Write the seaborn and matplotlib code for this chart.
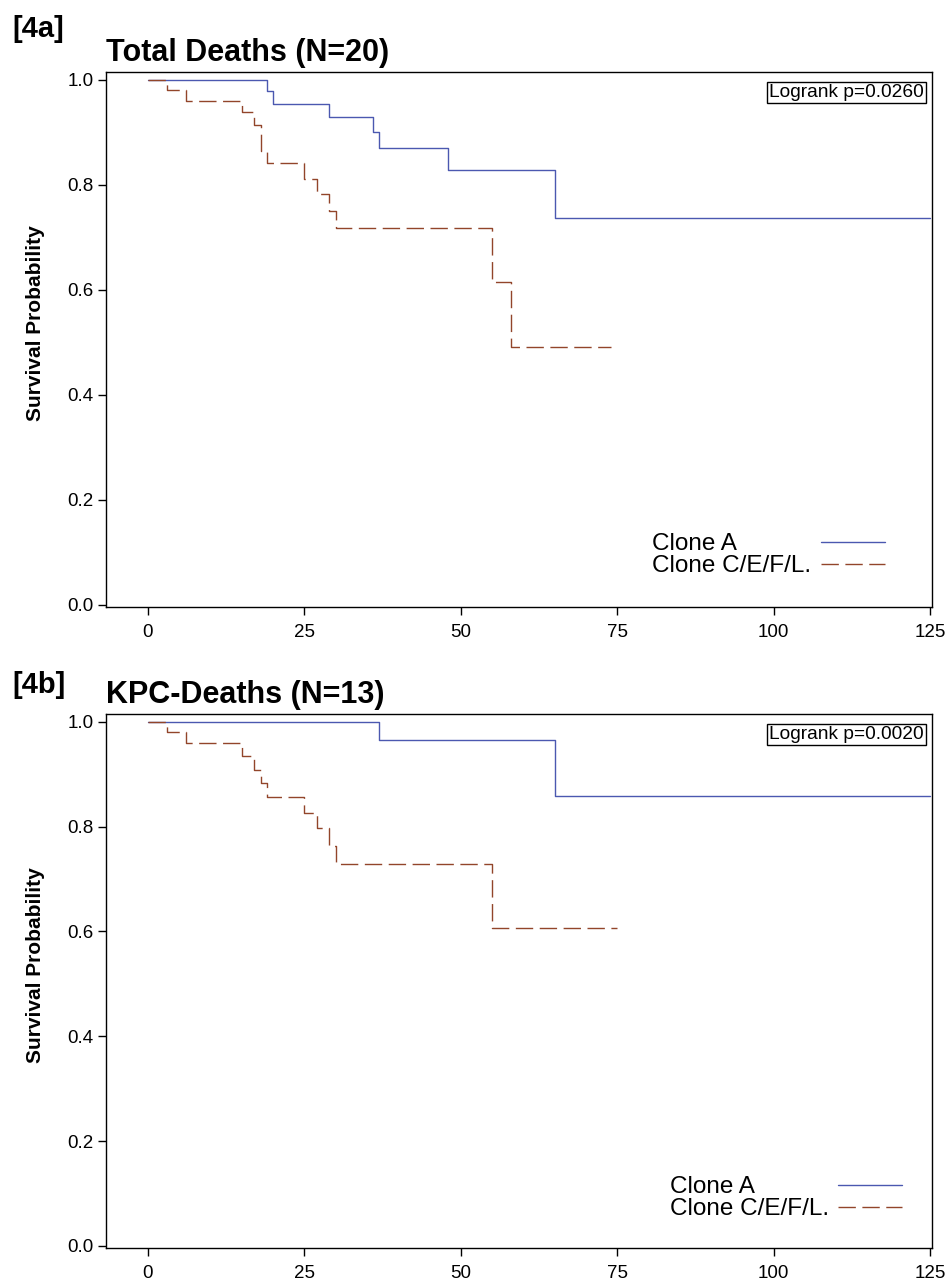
import numpy as np
import pandas as pd
import seaborn as sns
import matplotlib.pyplot as plt
from matplotlib.lines import Line2D

# Kaplan-Meier step values (time, survival probability)
groups = ['Clone A', 'Clone C/E/F/L.']

a_time_A = [0, 19, 20, 29, 36, 37, 48, 65, 125]
a_surv_A = [1.0, 0.978, 0.955, 0.929, 0.900, 0.870, 0.828, 0.737, 0.737]
a_time_C = [0, 3, 6, 15, 17, 18, 19, 25, 27, 29, 30, 55, 58, 74]
a_surv_C = [1.0, 0.981, 0.960, 0.938, 0.914, 0.865, 0.841, 0.811, 0.783, 0.751, 0.718, 0.615, 0.492, 0.492]

b_time_A = [0, 37, 65, 125]
b_surv_A = [1.0, 0.965, 0.858, 0.858]
b_time_C = [0, 3, 6, 15, 17, 18, 19, 25, 27, 29, 30, 55, 75]
b_surv_C = [1.0, 0.980, 0.959, 0.935, 0.909, 0.883, 0.857, 0.827, 0.797, 0.764, 0.729, 0.606, 0.606]

panel_tags = ['[4a]', '[4b]']
panel_titles = ['Total Deaths (N=20)', 'KPC-Deaths (N=13)']
pvalues = ['Logrank p=0.0260', 'Logrank p=0.0020']

x_ticks = [0, 25, 50, 75, 100, 125]
y_ticks = [0.0, 0.2, 0.4, 0.6, 0.8, 1.0]

palette = {'Clone A': '#4b58b0', 'Clone C/E/F/L.': '#92452a'}
dash = (12.5, 4.7)


def km_frame(tA, sA, tC, sC):
    d1 = pd.DataFrame({'time': tA, 'surv': sA, 'group': groups[0]})
    d2 = pd.DataFrame({'time': tC, 'surv': sC, 'group': groups[1]})
    return pd.concat([d1, d2], ignore_index=True)


sns.set_theme(style='ticks')
plt.rcParams['font.family'] = ['Liberation Sans', 'DejaVu Sans']
plt.rcParams['text.color'] = 'black'
plt.rcParams['axes.labelcolor'] = 'black'
plt.rcParams['axes.titlecolor'] = 'black'

fig = plt.figure(figsize=(9.48, 12.83), dpi=100)
ax_a = fig.add_axes([106/948, 1 - 607/1283, 826/948, 535/1283])
ax_b = fig.add_axes([106/948, 1 - 1248/1283, 826/948, 534/1283])

frames = [km_frame(a_time_A, a_surv_A, a_time_C, a_surv_C),
          km_frame(b_time_A, b_surv_A, b_time_C, b_surv_C)]
legend_anchor = [(0.954, 0.056), (0.975, 0.052)]
tag_y = [37, 693]

for i, (ax, df) in enumerate(zip([ax_a, ax_b], frames)):
    sns.lineplot(data=df, x='time', y='surv', hue='group', style='group',
                 hue_order=groups, style_order=groups, palette=palette,
                 dashes={groups[0]: '', groups[1]: dash},
                 estimator=None, sort=False, drawstyle='steps-post',
                 linewidth=1.0, legend=False, ax=ax)

    ax.set_xlim(-6.71, 125.3)
    ax.set_ylim(-0.004, 1.015)
    ax.set_xticks(x_ticks)
    ax.set_yticks(y_ticks)
    ax.set_yticklabels([f'{v:.1f}' for v in y_ticks])
    ax.tick_params(axis='both', direction='out', length=6, width=1,
                   color='black', labelsize=13.5, labelcolor='black')
    ax.tick_params(axis='x', pad=6)
    ax.tick_params(axis='y', pad=3)
    for sp in ax.spines.values():
        sp.set_color('black')
        sp.set_linewidth(1.0)
    ax.set_xlabel('')
    ax.set_ylabel('Survival Probability', fontsize=15, fontweight='bold')
    ax.yaxis.set_label_coords(-0.074, 0.53)
    ax.set_title(panel_titles[i], loc='left', fontsize=22, fontweight='bold',
                 pad=8)
    fig.text(12/948, 1 - tag_y[i]/1283, panel_tags[i], fontsize=21,
             fontweight='bold', va='baseline', ha='left')

    ax.text(0.990, 0.978, pvalues[i], transform=ax.transAxes, ha='right',
            va='top', fontsize=13.8,
            bbox=dict(boxstyle='square,pad=0.1', fc='white', ec='black', lw=1))

    # two-column legend: labels on the left, line samples on the right
    blank = Line2D([], [], linestyle='none')
    handles = [blank, blank,
               Line2D([], [], color=palette[groups[0]], lw=1.0),
               Line2D([], [], color=palette[groups[1]], lw=1.0, dashes=dash)]
    ax.legend(handles, groups + ['', ''], ncol=2, loc='lower right',
              bbox_to_anchor=legend_anchor[i], frameon=False, fontsize=17.5,
              handlelength=2.65, handletextpad=0.37, columnspacing=0.37,
              labelspacing=0.0, borderpad=0, borderaxespad=0)

fig.savefig('out.png', dpi=100)
